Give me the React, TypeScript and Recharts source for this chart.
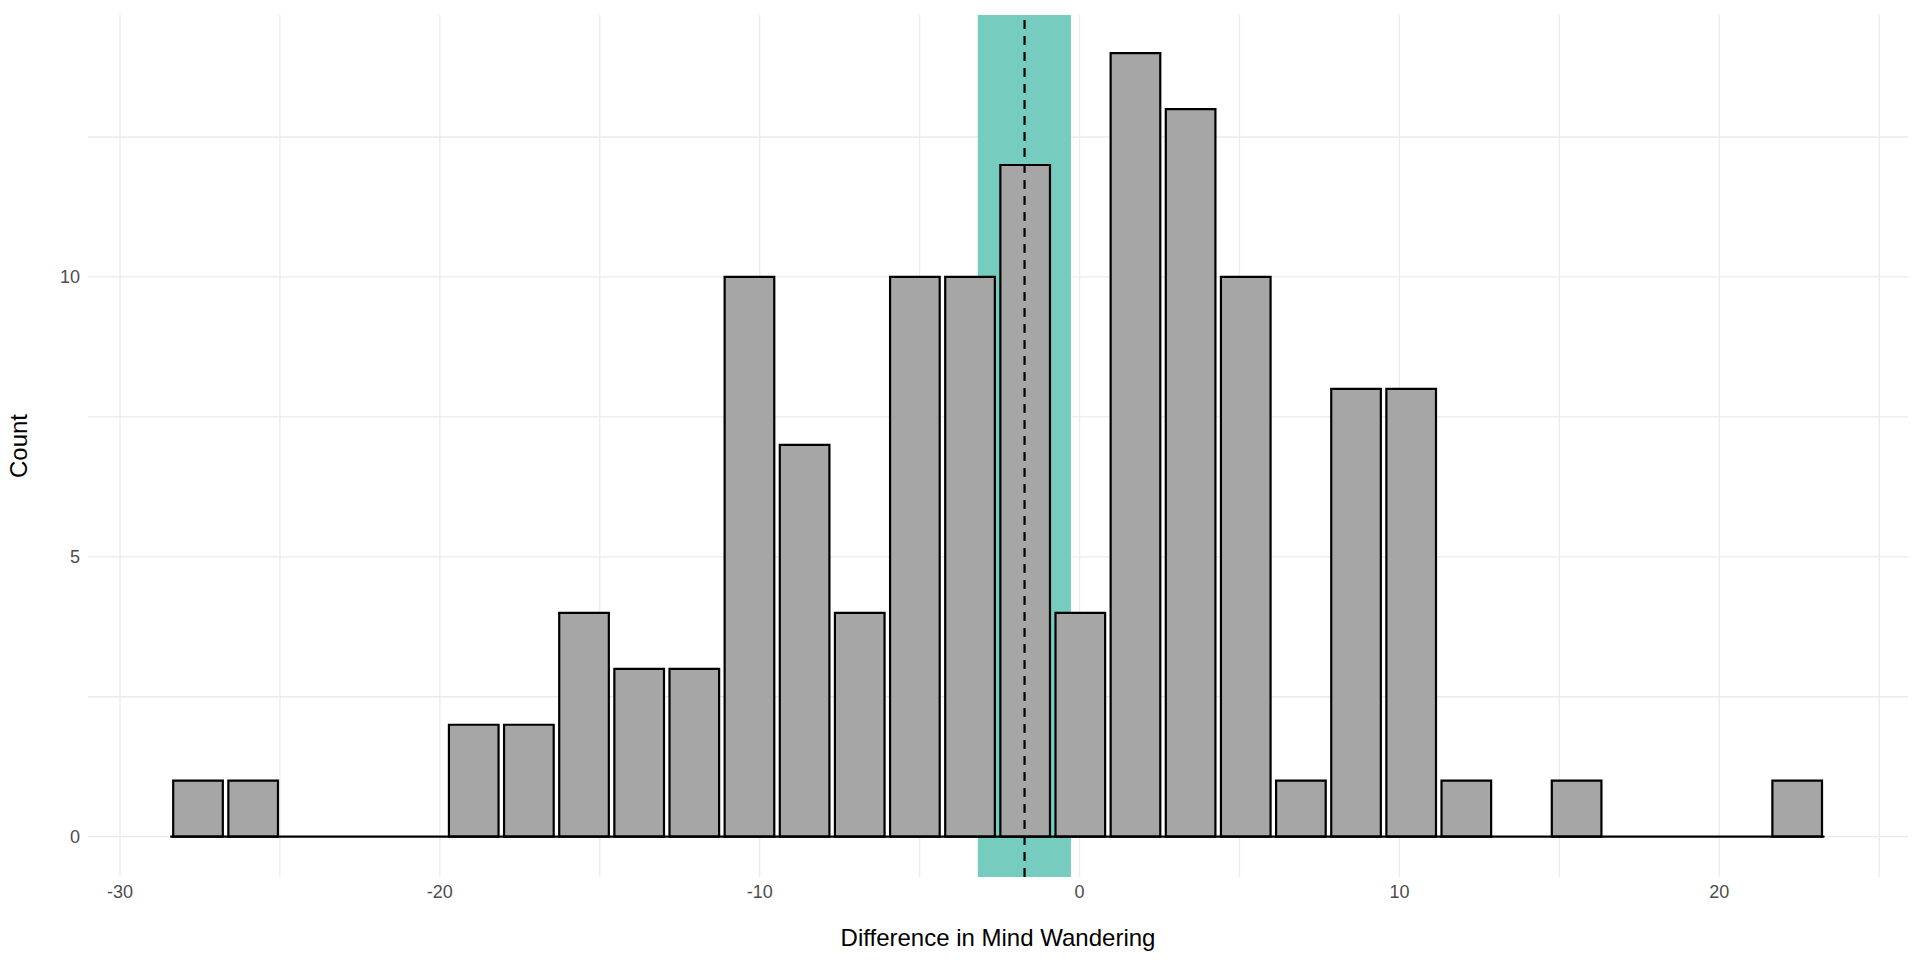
import { ComposedChart, Bar, XAxis, YAxis, CartesianGrid, ReferenceLine, ReferenceArea, Label } from "recharts"

const binStart = -28.43
const binWidth = 1.724
const counts = [1, 1, 0, 0, 0, 2, 2, 4, 3, 3, 10, 7, 4, 10, 10, 12, 4, 14, 13, 10, 1, 8, 8, 1, 0, 1, 0, 0, 0, 1]
const meanDiff = -1.72
const ciLow = -3.18
const ciHigh = -0.27
const xTicks = [-30, -25, -20, -15, -10, -5, 0, 5, 10, 15, 20, 25]
const yTicks = [0, 2.5, 5, 7.5, 10, 12.5]

const data = counts.map((c, i) => ({ x: binStart + binWidth * (i + 0.5), count: c }))
const binEnd = binStart + binWidth * counts.length

const xDomain = [-31, 25.9]
const yDomain = [-0.72, 14.68]
const plotW = 1820
const barPx = (binWidth * plotW) / (xDomain[1] - xDomain[0])

export default function App() {
  return (
    <div style={{ position: "fixed", top: 0, left: 0, background: "#fff" }}>
      <ComposedChart width={1920} height={960} data={data} margin={{ top: 15, right: 12, bottom: 10, left: 38 }}>
        <CartesianGrid stroke="#ebebeb" strokeWidth={1.3} horizontalValues={yTicks} verticalValues={xTicks} />
        <ReferenceArea x1={ciLow} x2={ciHigh} y1={yDomain[0]} y2={yDomain[1]} fill="#76cdbf" fillOpacity={1} stroke="none" ifOverflow="visible" />
        <XAxis
          type="number"
          dataKey="x"
          domain={xDomain}
          ticks={xTicks}
          interval={0}
          tickFormatter={(v) => (v % 10 === 0 ? String(v) : "")}
          axisLine={false}
          tickLine={false}
          height={73}
          tick={{ fill: "#4d4d4d", fontSize: 18, fontFamily: "Liberation Sans, Arial, sans-serif" }}
          allowDataOverflow
        >
          <Label value="Difference in Mind Wandering" position="insideBottom" offset={4} style={{ fill: "#000", fontSize: 24, fontFamily: "Liberation Sans, Arial, sans-serif" }} />
        </XAxis>
        <YAxis
          type="number"
          domain={yDomain}
          ticks={yTicks}
          interval={0}
          tickFormatter={(v) => (v % 5 === 0 ? String(v) : "")}
          axisLine={false}
          tickLine={false}
          width={50}
          tick={{ fill: "#4d4d4d", fontSize: 18, fontFamily: "Liberation Sans, Arial, sans-serif" }}
          allowDataOverflow
        >
          <Label value="Count" angle={-90} position="insideLeft" offset={-20} style={{ fill: "#000", fontSize: 24, fontFamily: "Liberation Sans, Arial, sans-serif", textAnchor: "middle" }} />
        </YAxis>
        <ReferenceLine segment={[{ x: binStart, y: 0 }, { x: binEnd, y: 0 }]} stroke="#000" strokeWidth={2.2} />
        <Bar dataKey="count" fill="#a6a6a6" stroke="#000" strokeWidth={2.2} barSize={barPx} isAnimationActive={false} />
        <ReferenceLine x={meanDiff} stroke="#000" strokeWidth={2.2} strokeDasharray="9 7" />
      </ComposedChart>
    </div>
  )
}
